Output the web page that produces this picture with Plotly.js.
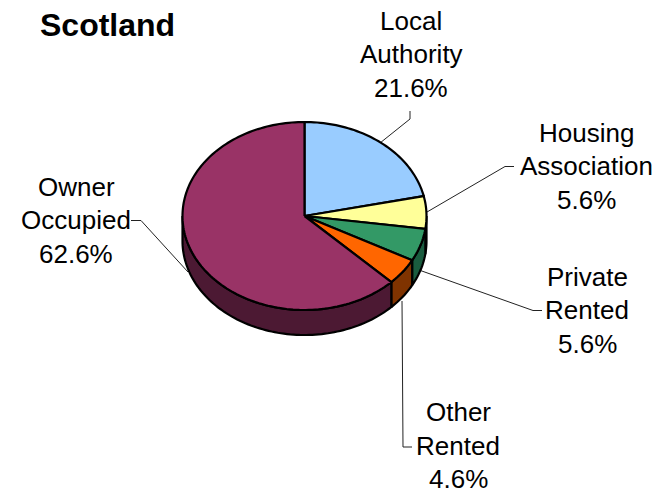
<!DOCTYPE html>
<html>
<head>
<meta charset="utf-8">
<script src="https://cdn.plot.ly/plotly-3.0.1.min.js"></script>
<style>html,body{margin:0;padding:0;background:#fff}</style>
</head>
<body>
<div id="chart" style="width:664px;height:491px"></div>
<script>
// Data
const chartTitle = "Scotland";
const categories = ["Local Authority", "Housing Association", "Private Rented", "Other Rented", "Owner Occupied"];
const shares = [21.6, 5.6, 5.6, 4.6, 62.6];
const labelLines = [["Local", "Authority"], ["Housing", "Association"], ["Private", "Rented"], ["Other", "Rented"], ["Owner", "Occupied"]];

// Styles
const topColours = ["#99CCFF", "#FFFF99", "#339966", "#FF6600", "#993366"];
const sideColours = ["#4C667F", "#7F7F4C", "#1A5C3F", "#7F3300", "#4C1933"];
const labelCentres = [[411, 54], [586, 166], [587, 310], [458, 445.5], [76, 220]];
const leaderPaths = [
  [[380, 143], [410, 119], [410, 111]],
  [[427, 212], [505, 166.5], [514, 166.5]],
  [[419, 270], [533, 310.5], [542, 310.5]],
  [[402, 301], [403, 447], [412, 447]],
  [[188, 272], [141, 220.5], [131, 220.5]]
];

// Projected pie geometry
const cx = 304.5, cy = 216, rx = 122, ry = 94, depth = 25;
const pt = (deg, dy) => {
  const a = deg * Math.PI / 180;
  return [cx + rx * Math.sin(a), cy - ry * Math.cos(a) + (dy || 0)];
};
const arc = (from, to, dy) => {
  const out = [], n = Math.max(2, Math.ceil(Math.abs(to - from) / 1.5));
  for (let i = 0; i <= n; i++) out.push(pt(from + (to - from) * i / n, dy));
  return out;
};
const polyTrace = (points, fill, width, closed) => {
  const p = closed ? points.concat([points[0]]) : points;
  return {
    type: "scatter", mode: "lines",
    x: p.map(q => q[0]), y: p.map(q => q[1]),
    fill: closed ? "toself" : "none", fillcolor: fill,
    line: {color: closed ? "#000" : "#222", width: width, simplify: false},
    hoverinfo: "skip", showlegend: false
  };
};

let start = 0;
const wedges = shares.map(v => {
  const w = {from: start * 3.6, to: (start + v) * 3.6};
  start += v;
  return w;
});

const traces = [];
// Leader lines go underneath the pie
leaderPaths.forEach(p => traces.push(polyTrace(p, null, 1, false)));
// Rim, only the front half is visible
wedges.forEach((w, i) => {
  const a = Math.max(w.from, 90), b = Math.min(w.to, 270);
  if (b > a) {
    traces.push(polyTrace(arc(a, b, 0).concat(arc(b, a, depth)), sideColours[i], 2.2, true));
  }
});
// Top face
wedges.forEach((w, i) => {
  traces.push(polyTrace([[cx, cy]].concat(arc(w.from, w.to, 0)), topColours[i], 2.2, true));
});

const annotations = [{
  xref: "x", yref: "y", x: 37.5, y: 25, xanchor: "left", yanchor: "middle",
  text: "<b>" + chartTitle + "</b>", showarrow: false,
  font: {family: "Liberation Sans, Arial, sans-serif", size: 32, color: "#000"}
}];
categories.forEach((c, i) => {
  const t = labelLines[i].concat([shares[i].toFixed(1) + "%"]);
  t.forEach((line, k) => annotations.push({
    xref: "x", yref: "y",
    x: labelCentres[i][0], y: labelCentres[i][1] + (k - 1) * 33.5,
    xanchor: "center", yanchor: "middle", text: line, showarrow: false, borderpad: 0,
    font: {family: "Liberation Sans, Arial, sans-serif", size: 26, color: "#000"}
  }));
});

Plotly.newPlot("chart", traces, {
  width: 664, height: 491,
  margin: {l: 0, r: 0, t: 0, b: 0},
  paper_bgcolor: "#fff", plot_bgcolor: "#fff",
  xaxis: {range: [0, 664], visible: false, fixedrange: true},
  yaxis: {range: [491, 0], visible: false, fixedrange: true},
  showlegend: false,
  annotations: annotations
}, {displayModeBar: false, staticPlot: true});
</script>
</body>
</html>
